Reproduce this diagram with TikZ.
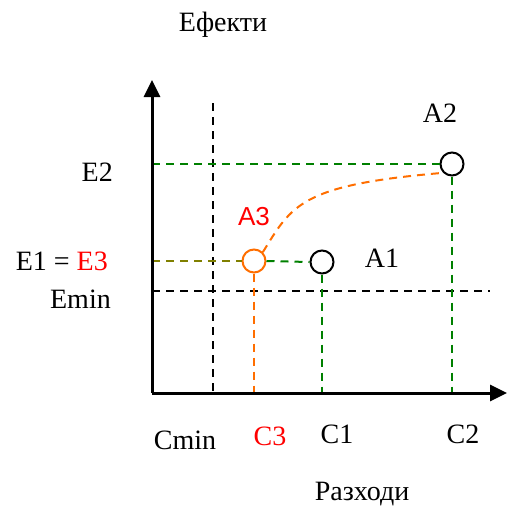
\documentclass[tikz,border=0pt]{standalone}
\usepackage{fontspec}
\setmainfont{Liberation Serif}
\newfontfamily\arialf{Liberation Sans}
\usetikzlibrary{arrows.meta}
\definecolor{dgreen}{RGB}{0,128,0}
\definecolor{olivec}{RGB}{128,128,0}
\definecolor{orangec}{RGB}{255,110,0}
\begin{document}
\begin{tikzpicture}[x=1pt,y=-1pt,
  axisline/.style={line width=3pt,-{Triangle[length=17pt,width=16pt]}},
  dl/.style={line width=2pt,dash pattern=on 8pt off 6pt},
  pt/.style={circle,draw,line width=2pt,minimum size=23pt,inner sep=0pt},
  lbl/.style={font=\fontsize{28}{30}\selectfont,inner sep=0pt}]
\useasboundingbox (0,0) rectangle (511,506);
% axis coordinates
\coordinate (O) at (152,393);
\coordinate (ytop) at (152,80);
\coordinate (xend) at (507,393);
% guide lines
\coordinate (cminT) at (213,103);
\coordinate (cminB) at (213,393);
\coordinate (eminL) at (152,291);
\coordinate (eminR) at (490,291);
\draw[dl] (cminT) -- (cminB);
\draw[dl] (eminL) -- (eminR);
% points
\node[pt] (A2) at (452,164) {};
\node[pt] (A1) at (322,262) {};
\node[pt,draw=orangec] (A3) at (254,261) {};
\coordinate (e2L) at (152,164);
\coordinate (e1L) at (152,261);
\coordinate (c2B) at (452,393);
\coordinate (c1B) at (322,393);
\coordinate (c3B) at (254,393);
\draw[dl,dgreen] (e2L) -- (A2.west);
\draw[dl,dgreen] (A2.south) -- (c2B);
\draw[dl,olivec] (e1L) -- (A3.west);
\draw[dl,dgreen] (A3.east) -- (A1.west);
\draw[dl,dgreen] (A1.south) -- (c1B);
\draw[dl,orangec] (A3.south) -- (c3B);
\draw[dl,orangec] (A3.north east) .. controls (292,205) and (300,185) .. (A2.south west);
% axes
\draw[axisline] (O) -- (ytop);
\draw[axisline] (O) -- (xend);
% labels
\node[lbl] (ef) at (223,25) {Ефекти};
\node[lbl] (raz) at (362,494) {Разходи};
\node[lbl] (la2) at (440,113) {A2};
\node[lbl] (la1) at (382,258) {A1};
\node[lbl,text=red,font=\arialf\fontsize{26}{30}\selectfont] (la3) at (254,217) {A3};
\node[lbl,anchor=east] (le2) at (113,172) {E2};
\node[lbl,anchor=east] (le1) at (108,261) {E1 = \textcolor{red}{E3}};
\node[lbl,anchor=east] (lemin) at (111,299) {Emin};
\node[lbl] (lcmin) at (185,440) {Cmin};
\node[lbl,text=red] (lc3) at (270,436) {C3};
\node[lbl] (lc1) at (337,434) {C1};
\node[lbl] (lc2) at (463,434) {C2};
\end{tikzpicture}
\end{document}
